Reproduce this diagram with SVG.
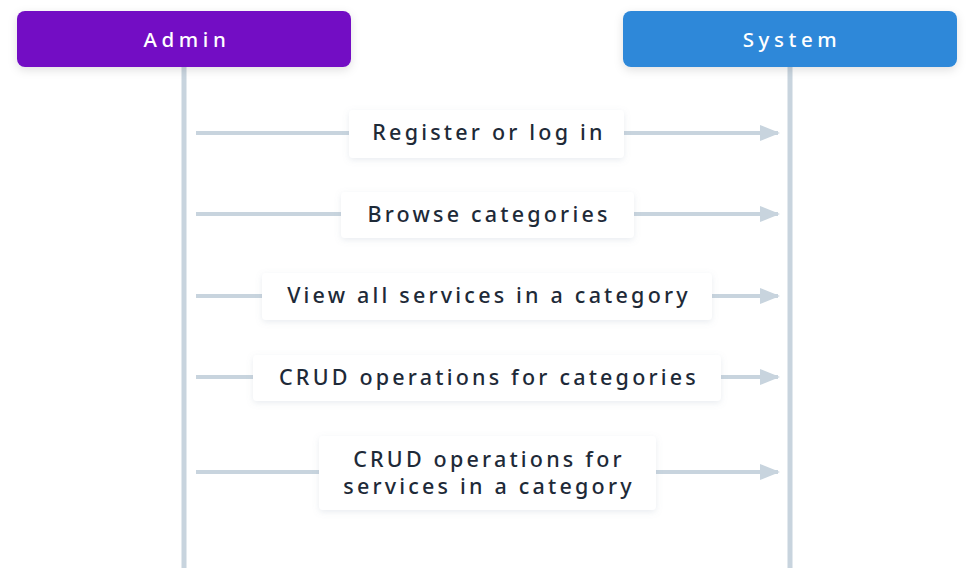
<svg xmlns="http://www.w3.org/2000/svg" width="978" height="579" viewBox="0 0 978 579">
<defs>
<style>
.actor{font-family:"Noto Sans","DejaVu Sans",sans-serif;font-size:20.5px;fill:#ffffff;letter-spacing:4.6px;text-anchor:middle;font-weight:500}
.lbl{font-family:"Noto Sans","DejaVu Sans",sans-serif;font-size:21.5px;fill:#1e2a38;letter-spacing:3.2px;text-anchor:middle;font-weight:500}
.life{stroke:#c8d4de;stroke-width:5}
.msg{stroke:#c8d4de;stroke-width:4;fill:none;marker-end:url(#ah)}
.lbox{fill:#ffffff;filter:url(#sh)}
</style>
<marker id="ah" markerWidth="5" markerHeight="4" refX="4.5" refY="2" orient="auto" markerUnits="strokeWidth">
<path d="M0,0 L5,2 L0,4 Z" fill="#c8d4de"/>
</marker>
<filter id="sh" x="-20%" y="-40%" width="140%" height="180%">
<feDropShadow dx="0" dy="2" stdDeviation="3" flood-color="#8898aa" flood-opacity="0.18"/>
</filter>
<filter id="ash" x="-10%" y="-40%" width="120%" height="180%">
<feDropShadow dx="0" dy="3" stdDeviation="5" flood-color="#000" flood-opacity="0.12"/>
</filter>
</defs>
<rect width="978" height="579" fill="#ffffff"/>
<g id="lifelines">
<line class="life" x1="184" y1="67" x2="184" y2="568"/>
<line class="life" x1="790" y1="67" x2="790" y2="568"/>
</g>
<g id="admin">
<rect x="17" y="11" width="334" height="56" rx="8" fill="#7311c4" filter="url(#ash)"/>
<text class="actor" x="187" y="47">Admin</text>
</g>
<g id="system">
<rect x="623" y="11" width="334" height="56" rx="8" fill="#2d88d9" filter="url(#ash)"/>
<text class="actor" x="792" y="47">System</text>
</g>
<g id="connectors">
<line class="msg" x1="196" y1="133" x2="778" y2="133"/>
<line class="msg" x1="196" y1="214" x2="778" y2="214"/>
<line class="msg" x1="196" y1="296" x2="778" y2="296"/>
<line class="msg" x1="196" y1="377" x2="778" y2="377"/>
<line class="msg" x1="196" y1="472" x2="778" y2="472"/>
</g>
<g id="label1">
<rect class="lbox" x="349" y="110" width="275" height="48" rx="4"/>
<text class="lbl" x="489" y="140">Register or log in</text>
</g>
<g id="label2">
<rect class="lbox" x="341" y="192" width="293" height="46" rx="4"/>
<text class="lbl" x="489" y="222">Browse categories</text>
</g>
<g id="label3">
<rect class="lbox" x="262" y="273" width="450" height="47" rx="4"/>
<text class="lbl" x="489" y="303">View all services in a category</text>
</g>
<g id="label4">
<rect class="lbox" x="253" y="355" width="468" height="46" rx="4"/>
<text class="lbl" x="489" y="385">CRUD operations for categories</text>
</g>
<g id="label5">
<rect class="lbox" x="319" y="436" width="337" height="74" rx="4"/>
<text class="lbl" x="489" y="467">CRUD operations for</text>
<text class="lbl" x="489" y="494">services in a category</text>
</g>
</svg>
